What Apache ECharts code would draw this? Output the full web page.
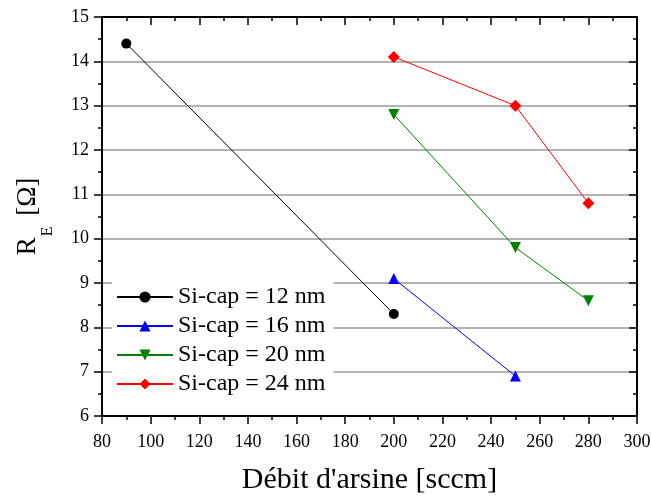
<!DOCTYPE html>
<html><head><meta charset="utf-8">
<script src="https://cdn.jsdelivr.net/npm/echarts@6/dist/echarts.min.js"></script>
<style>html,body{margin:0;padding:0;background:#fff}#c{width:651px;height:496px}</style>
</head><body><div id="c"></div>
<script>
const seriesNames = ['Si-cap = 12 nm','Si-cap = 16 nm','Si-cap = 20 nm','Si-cap = 24 nm'];
const x12 = [90, 200];         const y12 = [14.4, 8.3];
const x16 = [200, 250];        const y16 = [9.1, 6.9];
const x20 = [200, 250, 280];   const y20 = [12.8, 9.8, 8.6];
const x24 = [200, 250, 280];   const y24 = [14.1, 13.0, 10.8];
const xTicks = [80,100,120,140,160,180,200,220,240,260,280,300];
const yTicks = [6,7,8,9,10,11,12,13,14,15];

const F = '"Liberation Serif","DejaVu Serif",serif';
const pair = (xs, ys) => xs.map((v,i)=>[v, ys[i]]);
const colors = ['#000000','#0000ff','#008000','#ff0000'];
const symbols = ['circle','triangle','triangle','diamond'];
const rot = [0,0,180,0];
const sizes = [10,11,11,12];
const datas = [pair(x12,y12), pair(x16,y16), pair(x20,y20), pair(x24,y24)];

const axisLine = {show:true, lineStyle:{color:'#000', width:2}};
const chart = echarts.init(document.getElementById('c'), null, {renderer:'canvas'});
chart.setOption({
  animation:false,
  backgroundColor:'#fff',
  grid:{left:102, right:14, top:17, bottom:80, containLabel:false, outerBoundsMode:'none'},
  legend:{
    orient:'vertical', left:112, top:281, itemWidth:56, itemHeight:14, itemGap:5,
    backgroundColor:'#fff', padding:[4,8,4,4],
    textStyle:{fontFamily:F, fontSize:24, color:'#000'},
    data: seriesNames
  },
  xAxis:[{
    type:'value', min:xTicks[0], max:xTicks[xTicks.length-1], interval:20,
    axisLine:axisLine,
    axisTick:{show:true, length:8, lineStyle:{color:'#000', width:1.5}},
    minorTick:{show:true, splitNumber:2, length:4, lineStyle:{color:'#000', width:1.5}},
    splitLine:{show:false},
    axisLabel:{fontFamily:F, fontSize:18, color:'#000', margin:17},
    name:"Débit d'arsine [sccm]", nameLocation:'middle', nameGap:49,
    nameTextStyle:{fontFamily:F, fontSize:30, color:'#000'}
  },{
    type:'value', position:'top', min:xTicks[0], max:xTicks[xTicks.length-1], interval:20,
    axisLine:axisLine,
    axisTick:{show:true, inside:true, length:8, lineStyle:{color:'#000', width:1.5}},
    minorTick:{show:true, splitNumber:2, length:4, lineStyle:{color:'#000', width:1.5}},
    splitLine:{show:false}, axisLabel:{show:false}
  }],
  yAxis:[{
    type:'value', min:yTicks[0], max:yTicks[yTicks.length-1], interval:1,
    axisLine:axisLine,
    axisTick:{show:true, length:8, lineStyle:{color:'#000', width:1.5}},
    minorTick:{show:true, splitNumber:2, length:4, lineStyle:{color:'#000', width:1.5}},
    splitLine:{show:true, lineStyle:{color:'#9a9a9a', width:1.5}},
    axisLabel:{fontFamily:F, fontSize:18, color:'#000', margin:13},
    name:'{a|R}{b|E}{a| [Ω]}', nameLocation:'middle', nameGap:58, nameRotate:90,
    nameTextStyle:{fontFamily:F, fontSize:27, color:'#000',
      rich:{a:{fontFamily:F, fontSize:27, color:'#000', lineHeight:30, verticalAlign:'top'},
            b:{fontFamily:F, fontSize:16, color:'#000', lineHeight:17, verticalAlign:'top', padding:[26,4,0,1]}}}
  },{
    type:'value', position:'right', min:yTicks[0], max:yTicks[yTicks.length-1], interval:1,
    axisLine:axisLine,
    axisTick:{show:true, inside:true, length:8, lineStyle:{color:'#000', width:1.5}},
    minorTick:{show:true, splitNumber:2, length:4, lineStyle:{color:'#000', width:1.5}},
    splitLine:{show:false}, axisLabel:{show:false}
  }],
  series: seriesNames.map((n,i)=>({
    name:n, type:'line', data:datas[i], xAxisIndex:0, yAxisIndex:0,
    symbol:symbols[i], symbolSize:sizes[i], symbolRotate:rot[i], showAllSymbol:true,
    itemStyle:{color:colors[i]}, lineStyle:{color:colors[i], width:1}, z:3
  }))
});
</script></body></html>
